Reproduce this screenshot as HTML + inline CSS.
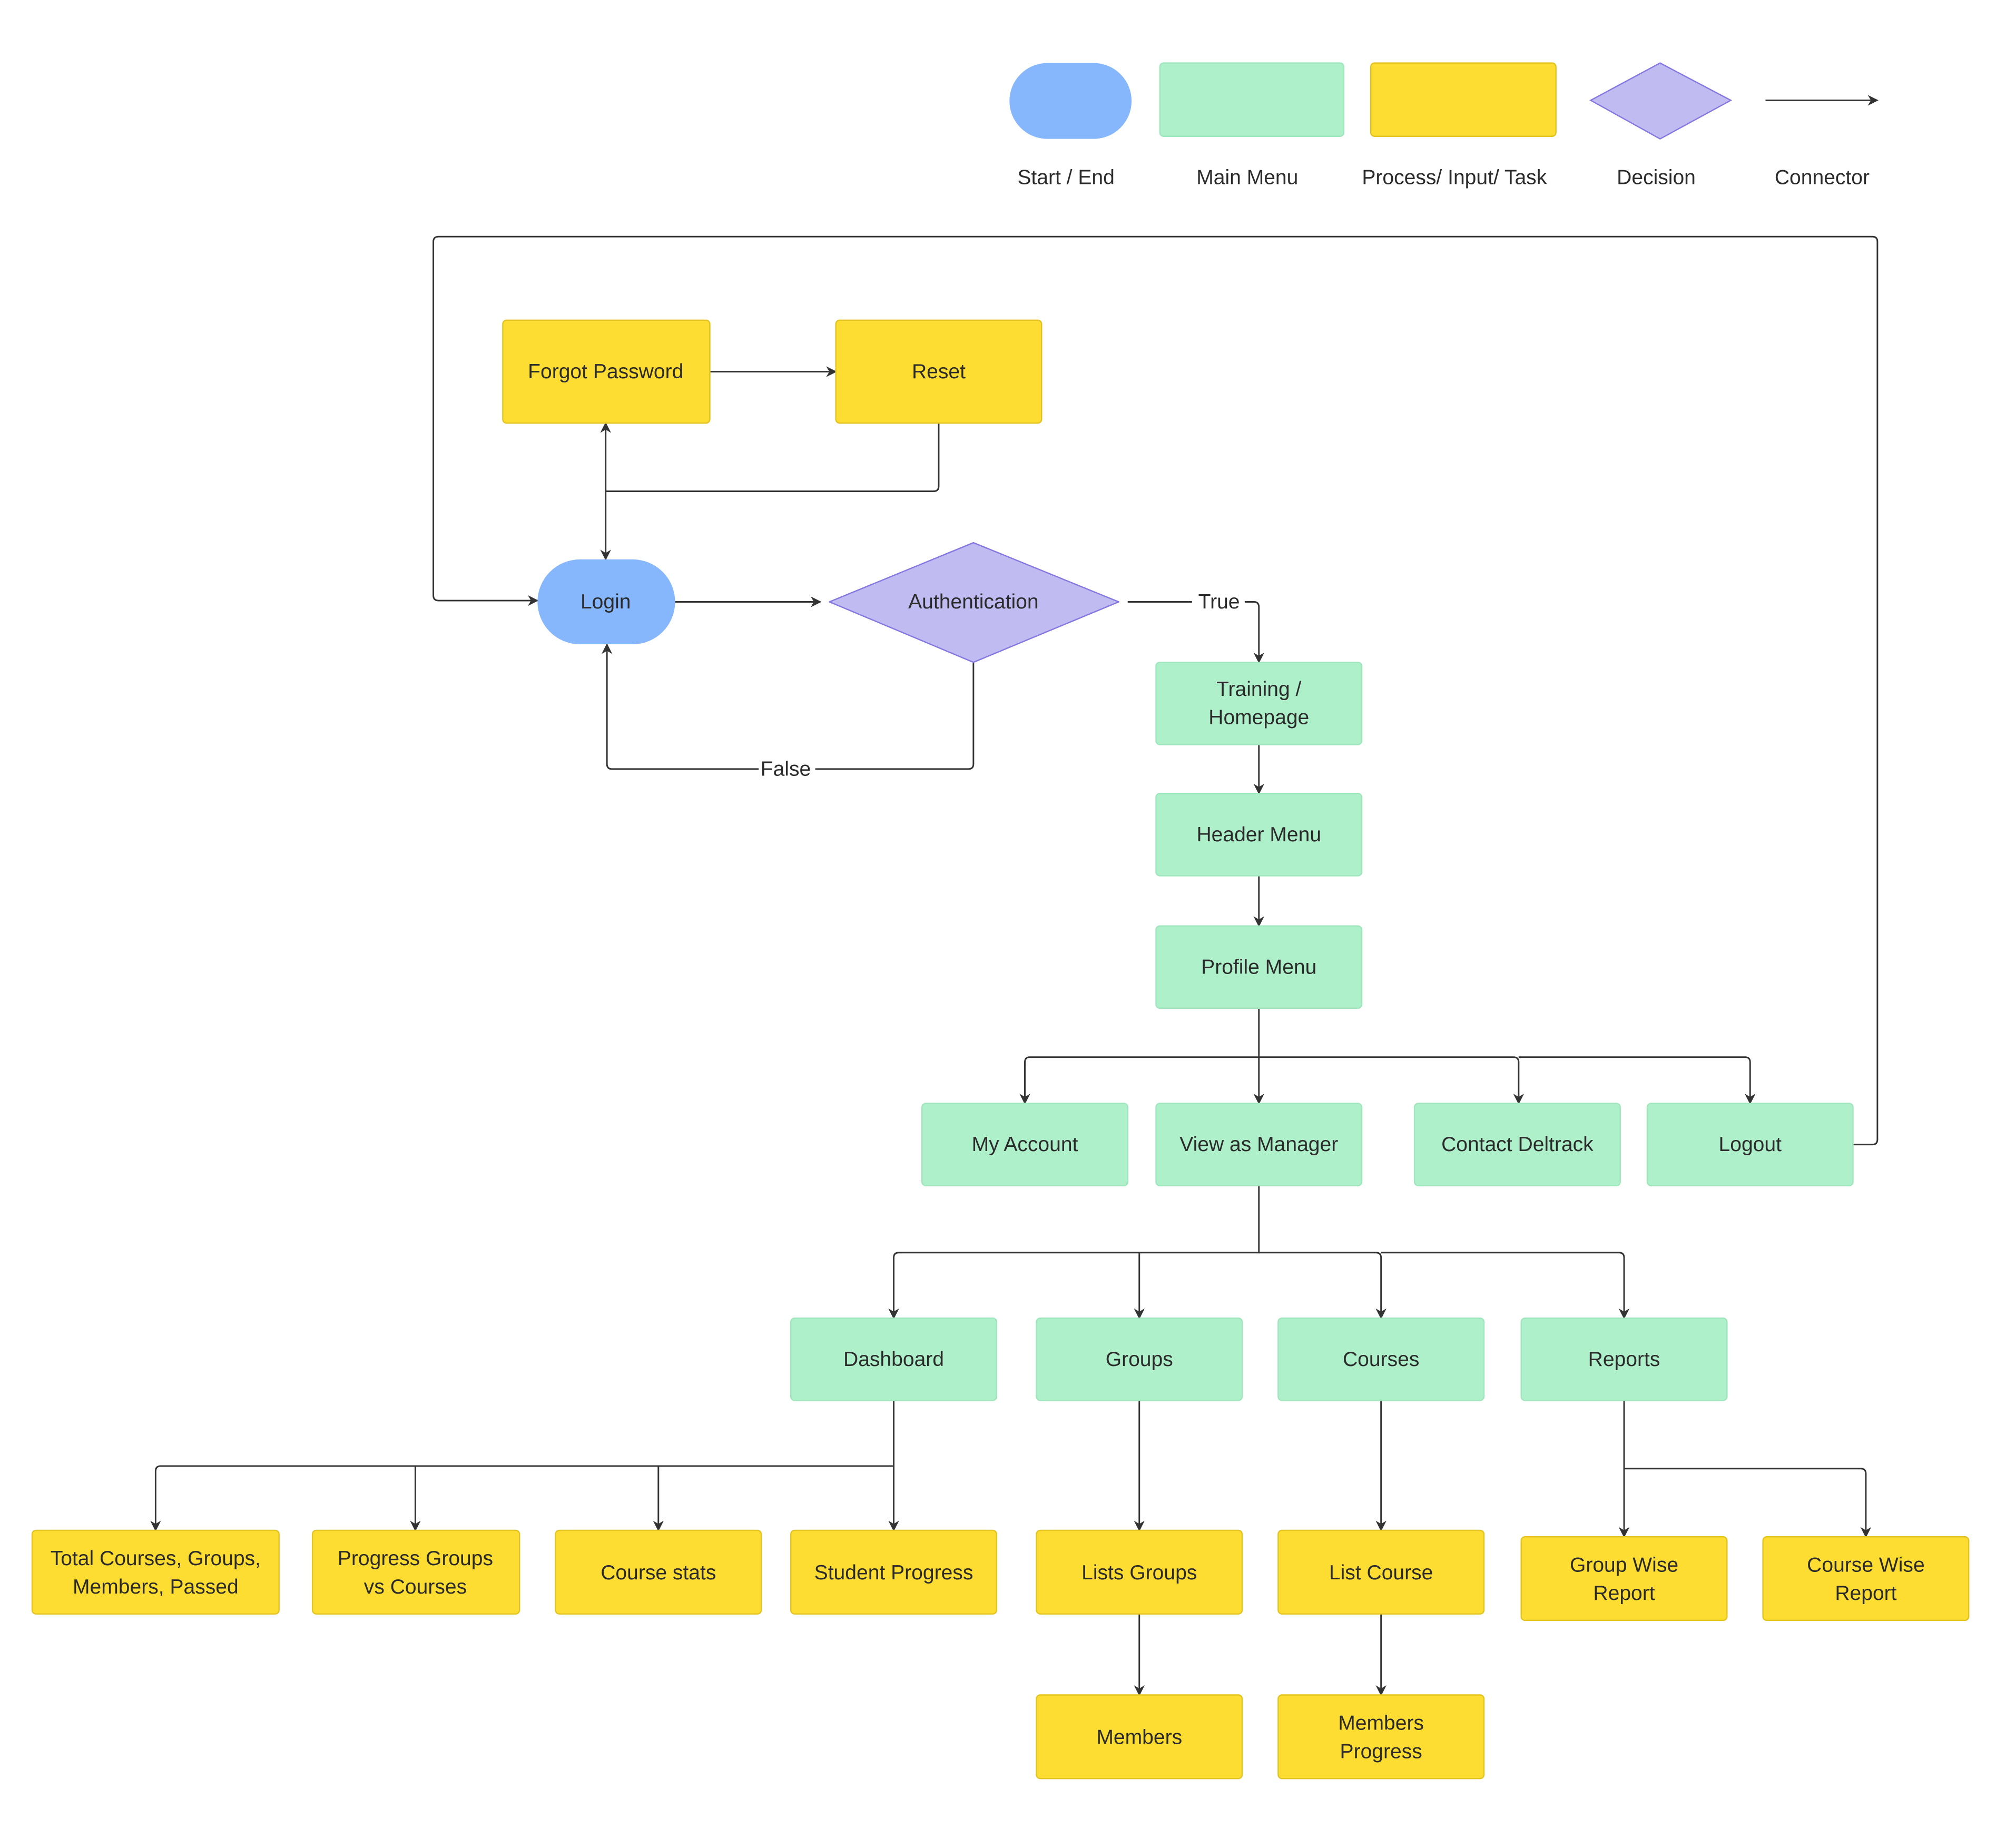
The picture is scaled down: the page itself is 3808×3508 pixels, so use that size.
<!DOCTYPE html>
<html><head><meta charset="utf-8"><style>
html,body{margin:0;padding:0;background:#fff}
svg{display:block}
text{font-family:"Liberation Sans",sans-serif;font-size:16px;fill:#2b2b2b;text-anchor:middle;dominant-baseline:central}
.g{fill:#aef0c9;stroke:#9fe6bd;stroke-width:1}
.y{fill:#fedd33;stroke:#e3c31f;stroke-width:1}
.l{fill:none;stroke:#333;stroke-width:1.2}
</style></head><body>
<svg width="3808" height="3508" viewBox="0 0 1560 1437" preserveAspectRatio="none" xmlns="http://www.w3.org/2000/svg">
<defs><marker id="a" viewBox="0 0 10 10" refX="9" refY="5" markerWidth="7" markerHeight="7" orient="auto-start-reverse"><path d="M0,0 L10,5 L0,10 L3,5 z" fill="#333"/></marker></defs>
<rect width="1560" height="1437" fill="#fff"/>
<!-- legend -->
<rect x="785" y="49" width="95" height="59" rx="29.5" fill="#86b7fd"/>
<rect x="902" y="49" width="143" height="57" rx="3" class="g"/>
<rect x="1066" y="49" width="144" height="57" rx="3" class="y"/>
<polygon points="1237,78 1291,49 1346,78 1291,108" fill="#c0bbf1" stroke="#8577e0"/>
<line x1="1373" y1="78" x2="1460" y2="78" class="l" marker-end="url(#a)"/>
<text x="829" y="138">Start / End</text>
<text x="970" y="138">Main Menu</text>
<text x="1131" y="138">Process/ Input/ Task</text>
<text x="1288" y="138">Decision</text>
<text x="1417" y="138">Connector</text>
<!-- connectors -->
<path d="M1441,890 H1456 Q1460,890 1460,886 V188 Q1460,184 1456,184 H341 Q337,184 337,188 V463 Q337,467 341,467 H418" class="l" marker-end="url(#a)"/>
<line x1="552" y1="289" x2="650" y2="289" class="l" marker-end="url(#a)"/>
<path d="M730,329 V378 Q730,382 726,382 H471" class="l"/>
<line x1="471" y1="382" x2="471" y2="329" class="l" marker-end="url(#a)"/>
<line x1="471" y1="382" x2="471" y2="435" class="l" marker-end="url(#a)"/>
<line x1="525" y1="468" x2="638" y2="468" class="l" marker-end="url(#a)"/>
<path d="M877,468 H927 M968,468 H975 Q979,468 979,472 V515" class="l" marker-end="url(#a)"/>
<text x="948" y="468">True</text>
<path d="M757,515 V594 Q757,598 753,598 H634 M590,598 H476 Q472,598 472,594 V501" class="l" marker-end="url(#a)"/>
<text x="611" y="598">False</text>
<line x1="979" y1="579" x2="979" y2="617" class="l" marker-end="url(#a)"/>
<line x1="979" y1="681" x2="979" y2="720" class="l" marker-end="url(#a)"/>
<path d="M979,784 V822 H801 Q797,822 797,826 V858" class="l" marker-end="url(#a)"/>
<line x1="979" y1="822" x2="979" y2="858" class="l" marker-end="url(#a)"/>
<path d="M979,822 H1177 Q1181,822 1181,826 V858" class="l" marker-end="url(#a)"/>
<path d="M1181,822 H1357 Q1361,822 1361,826 V858" class="l" marker-end="url(#a)"/>
<path d="M979,922 V974 H699 Q695,974 695,978 V1025" class="l" marker-end="url(#a)"/>
<path d="M886,974 V1025" class="l" marker-end="url(#a)"/>
<path d="M979,974 H1070 Q1074,974 1074,978 V1025" class="l" marker-end="url(#a)"/>
<path d="M1074,974 H1259 Q1263,974 1263,978 V1025" class="l" marker-end="url(#a)"/>
<path d="M695,1089 V1140 H125 Q121,1140 121,1144 V1190" class="l" marker-end="url(#a)"/>
<path d="M323,1140 V1190" class="l" marker-end="url(#a)"/>
<path d="M512,1140 V1190" class="l" marker-end="url(#a)"/>
<path d="M695,1140 V1190" class="l" marker-end="url(#a)"/>
<line x1="886" y1="1089" x2="886" y2="1190" class="l" marker-end="url(#a)"/>
<line x1="886" y1="1255" x2="886" y2="1318" class="l" marker-end="url(#a)"/>
<line x1="1074" y1="1089" x2="1074" y2="1190" class="l" marker-end="url(#a)"/>
<line x1="1074" y1="1255" x2="1074" y2="1318" class="l" marker-end="url(#a)"/>
<line x1="1263" y1="1089" x2="1263" y2="1195" class="l" marker-end="url(#a)"/>
<path d="M1263,1142 H1447 Q1451,1142 1451,1146 V1195" class="l" marker-end="url(#a)"/>
<!-- nodes -->
<rect x="391" y="249" width="161" height="80" rx="3" class="y"/><text x="471" y="289">Forgot Password</text>
<rect x="650" y="249" width="160" height="80" rx="3" class="y"/><text x="730" y="289">Reset</text>
<rect x="418" y="435" width="107" height="66" rx="33" fill="#86b7fd"/><text x="471" y="468">Login</text>
<polygon points="645,468 757,422 870,468 757,515" fill="#c0bbf1" stroke="#8577e0" stroke-linejoin="round"/><text x="757" y="468">Authentication</text>
<rect x="899" y="515" width="160" height="64" rx="3" class="g"/><text x="979" y="536">Training /</text><text x="979" y="558">Homepage</text>
<rect x="899" y="617" width="160" height="64" rx="3" class="g"/><text x="979" y="649">Header Menu</text>
<rect x="899" y="720" width="160" height="64" rx="3" class="g"/><text x="979" y="752">Profile Menu</text>
<rect x="717" y="858" width="160" height="64" rx="3" class="g"/><text x="797" y="890">My Account</text>
<rect x="899" y="858" width="160" height="64" rx="3" class="g"/><text x="979" y="890">View as Manager</text>
<rect x="1100" y="858" width="160" height="64" rx="3" class="g"/><text x="1180" y="890">Contact Deltrack</text>
<rect x="1281" y="858" width="160" height="64" rx="3" class="g"/><text x="1361" y="890">Logout</text>
<rect x="615" y="1025" width="160" height="64" rx="3" class="g"/><text x="695" y="1057">Dashboard</text>
<rect x="806" y="1025" width="160" height="64" rx="3" class="g"/><text x="886" y="1057">Groups</text>
<rect x="994" y="1025" width="160" height="64" rx="3" class="g"/><text x="1074" y="1057">Courses</text>
<rect x="1183" y="1025" width="160" height="64" rx="3" class="g"/><text x="1263" y="1057">Reports</text>
<rect x="25" y="1190" width="192" height="65" rx="3" class="y"/><text x="121" y="1212">Total Courses, Groups,</text><text x="121" y="1234">Members, Passed</text>
<rect x="243" y="1190" width="161" height="65" rx="3" class="y"/><text x="323" y="1212">Progress Groups</text><text x="323" y="1234">vs Courses</text>
<rect x="432" y="1190" width="160" height="65" rx="3" class="y"/><text x="512" y="1223">Course stats</text>
<rect x="615" y="1190" width="160" height="65" rx="3" class="y"/><text x="695" y="1223">Student Progress</text>
<rect x="806" y="1190" width="160" height="65" rx="3" class="y"/><text x="886" y="1223">Lists Groups</text>
<rect x="994" y="1190" width="160" height="65" rx="3" class="y"/><text x="1074" y="1223">List Course</text>
<rect x="1183" y="1195" width="160" height="65" rx="3" class="y"/><text x="1263" y="1217">Group Wise</text><text x="1263" y="1239">Report</text>
<rect x="1371" y="1195" width="160" height="65" rx="3" class="y"/><text x="1451" y="1217">Course Wise</text><text x="1451" y="1239">Report</text>
<rect x="806" y="1318" width="160" height="65" rx="3" class="y"/><text x="886" y="1351">Members</text>
<rect x="994" y="1318" width="160" height="65" rx="3" class="y"/><text x="1074" y="1340">Members</text><text x="1074" y="1362">Progress</text>
</svg>
</body></html>
